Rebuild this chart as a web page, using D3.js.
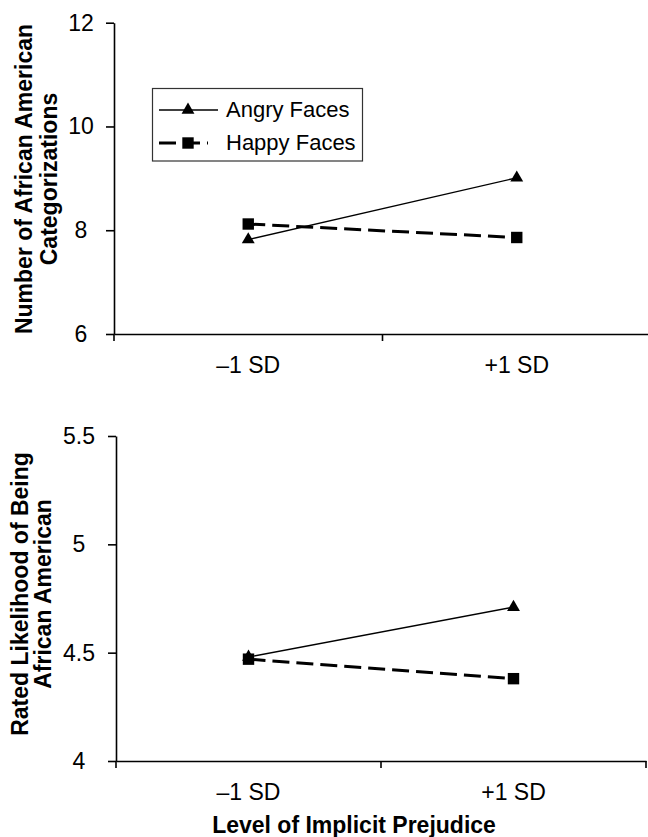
<!DOCTYPE html>
<head>
  <meta charset="utf-8">
  <style>
    body { margin: 0; background: #fff; }
    svg text { font-family: "Liberation Sans", Arial, sans-serif; fill: #000; }
    svg .tick text { font-size: 23px; }
    svg .domain, svg .tick line, svg .bound { stroke: #000; stroke-width: 1.6px; }
    svg .title { font-size: 23px; font-weight: bold; }
  </style>
</head>
<body>
<script src="https://cdn.jsdelivr.net/npm/d3@7"></script>
<script>
  var categories = ["\u20131 SD", "+1 SD"];
  var seriesNames = ["Angry Faces", "Happy Faces"];

  // top panel: number of African American categorizations
  var angryCount = [7.82, 9.01];
  var happyCount = [8.12, 7.86];
  var countTicks = [6, 8, 10, 12];

  // bottom panel: rated likelihood of being African American
  var angryRating = [4.48, 4.71];
  var happyRating = [4.47, 4.38];
  var ratingTicks = [4, 4.5, 5, 5.5];

  var svg = d3.select("body")
    .append("svg")
      .attr("width", 648)
      .attr("height", 837);

  function drawPanel(p) {
    var xScale = d3.scaleBand().domain(categories).range([p.left, p.right]);
    var yScale = d3.scaleLinear().domain(d3.extent(p.ticks)).range([p.bottom, p.top]);
    var bw = xScale.bandwidth();
    var cx = function (i) { return xScale(categories[i]) + bw / 2; };

    // x axis, labels in band centres, ticks on band edges
    var xAxis = d3.axisBottom(xScale).tickSize(0).tickSizeOuter(0);
    var gx = svg.append("g")
        .attr("transform", "translate(0," + p.bottom + ")")
        .call(xAxis);
    gx.selectAll(".tick text").attr("y", 39).attr("dy", null);

    var edges = categories.map(function (c) { return xScale(c); }).concat([xScale(categories[1]) + bw]);
    gx.selectAll("line.bound")
      .data(edges)
      .enter().append("line")
        .classed("bound", true)
        .attr("x1", function (d) { return d; })
        .attr("x2", function (d) { return d; })
        .attr("y1", 0)
        .attr("y2", 7);

    // y axis
    var yAxis = d3.axisLeft(yScale)
        .tickValues(p.ticks)
        .tickSize(8)
        .tickSizeOuter(0)
        .tickFormat(d3.format("~g"));
    var gy = svg.append("g")
        .attr("transform", "translate(" + p.left + ",0)")
        .call(yAxis);
    gy.selectAll(".tick text")
        .attr("x", p.labelX - p.left)
        .style("text-anchor", "middle");

    // axis title, two lines
    var title = svg.append("text")
        .classed("title", true)
        .attr("transform", "translate(0," + p.titleY + ") rotate(-90)")
        .style("text-anchor", "middle");
    title.selectAll("tspan")
      .data(p.titleLines)
      .enter().append("tspan")
        .attr("x", 0)
        .attr("y", function (d, i) { return p.titleX[i]; })
        .text(function (d) { return d; });

    var line = d3.line()
      .x(function (d, i) { return cx(i); })
      .y(function (d) { return yScale(d); });

    svg.append("path")
        .attr("d", line(p.angry))
        .style("fill", "none")
        .style("stroke", "#000")
        .style("stroke-width", "1.4px");

    svg.append("path")
        .attr("d", line(p.happy))
        .style("fill", "none")
        .style("stroke", "#000")
        .style("stroke-width", "3px")
        .style("stroke-dasharray", "17,7");

    svg.selectAll(null)
      .data(p.happy)
      .enter().append("path")
        .attr("d", d3.symbol().type(d3.symbolSquare).size(130))
        .attr("transform", function (d, i) { return "translate(" + cx(i) + "," + yScale(d) + ")"; });

    svg.selectAll(null)
      .data(p.angry)
      .enter().append("path")
        .attr("d", d3.symbol().type(d3.symbolTriangle).size(72))
        .attr("transform", function (d, i) { return "translate(" + cx(i) + "," + yScale(d) + ")"; });
  }

  drawPanel({
    left: 114, right: 651, top: 22.7, bottom: 334,
    ticks: countTicks, labelX: 81,
    angry: angryCount, happy: happyCount,
    titleLines: ["Number of African American", "Categorizations"],
    titleX: [32, 57], titleY: 179
  });

  drawPanel({
    left: 116, right: 646, top: 436, bottom: 761,
    ticks: ratingTicks, labelX: 79,
    angry: angryRating, happy: happyRating,
    titleLines: ["Rated Likelihood of Being", "African American"],
    titleX: [28, 51], titleY: 594
  });

  svg.append("text")
      .classed("title", true)
      .attr("x", 354)
      .attr("y", 833)
      .style("text-anchor", "middle")
      .text("Level of Implicit Prejudice");

  // legend
  var legend = svg.append("g");
  legend.append("rect")
      .attr("x", 152.5).attr("y", 88.5)
      .attr("width", 210).attr("height", 72.5)
      .style("fill", "#fff")
      .style("stroke", "#333")
      .style("stroke-width", "1.2px");

  var legendY = [110, 143];
  legend.append("line")
      .attr("x1", 159).attr("x2", 218)
      .attr("y1", legendY[0]).attr("y2", legendY[0])
      .style("stroke", "#000").style("stroke-width", "1.4px");
  legend.append("path")
      .attr("d", d3.symbol().type(d3.symbolTriangle).size(72))
      .attr("transform", "translate(188," + legendY[0] + ")");

  legend.append("line")
      .attr("x1", 159).attr("x2", 208)
      .attr("y1", legendY[1]).attr("y2", legendY[1])
      .style("stroke", "#000").style("stroke-width", "3px")
      .style("stroke-dasharray", "17,7");
  legend.append("path")
      .attr("d", d3.symbol().type(d3.symbolSquare).size(130))
      .attr("transform", "translate(188," + legendY[1] + ")");

  legend.selectAll("text.entry")
    .data(seriesNames)
    .enter().append("text")
      .classed("entry", true)
      .attr("x", 226)
      .attr("y", function (d, i) { return legendY[i] + 7; })
      .style("font-size", "22px")
      .text(function (d) { return d; });
</script>
</body>
</html>
